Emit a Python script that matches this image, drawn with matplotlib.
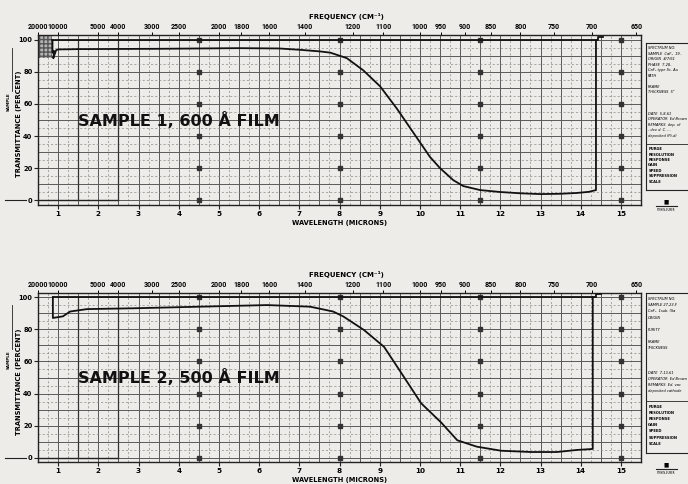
import matplotlib
matplotlib.use("Agg")
import matplotlib.pyplot as plt
import matplotlib.transforms as mtransforms
from matplotlib.patches import Rectangle
import numpy as np

# ---------------- data ----------------
wavelength_ticks = [1, 2, 3, 4, 5, 6, 7, 8, 9, 10, 11, 12, 13, 14, 15]
frequency_ticks = [20000, 10000, 5000, 4000, 3000, 2500, 2000, 1800, 1600, 1400,
                   1200, 1100, 1000, 950, 900, 850, 800, 750, 700, 650]
transmittance_ticks = [0, 20, 40, 60, 80, 100]

# Sample 1 (600 A film)
s1_wl = [0.86, 0.86, 0.90, 0.88, 0.95, 1.0, 1.5, 2.5, 3.5, 4.5, 5.5, 6.5, 7.0, 7.5,
         7.77, 8.18, 8.59, 9.01, 9.43, 9.84, 10.25, 10.5, 10.83, 11.08, 11.5,
         12.0, 12.5, 13.0, 13.5, 13.9, 14.2, 14.38, 14.38]
s1_t = [99.6, 92.0, 93.0, 88.5, 93.5, 94.0, 94.2, 94.3, 94.4, 94.6, 94.8, 94.6, 93.8, 92.8,
        92.0, 88.6, 81.0, 71.0, 57.0, 42.0, 27.0, 20.0, 12.5, 8.8, 6.3,
        5.1, 4.3, 3.8, 4.0, 4.5, 5.2, 6.3, 99.6]
ref1_wl = [0.86, 14.42, 14.42, 14.55]
ref1_t = [99.6, 99.6, 101.8, 101.8]

# Sample 2 (500 A film)
s2_wl = [0.87, 0.87, 1.0, 1.12, 1.3, 1.72, 2.87, 4.53, 6.2, 7.27, 7.84, 8.09,
         8.61, 9.11, 9.48, 10.03, 10.53, 10.93, 11.42, 12.02, 12.77, 13.41,
         13.91, 14.3, 14.3]
s2_t = [100.0, 87.0, 87.5, 88.0, 91.0, 92.5, 93.0, 94.0, 95.0, 94.0, 91.0, 88.0,
        79.5, 69.0, 55.0, 34.0, 22.0, 11.0, 7.0, 4.5, 3.7, 3.7,
        5.0, 5.6, 100.0]
ref2_wl = [0.87, 14.38, 14.38, 14.5]
ref2_t = [100.0, 100.0, 101.8, 101.8]

marker_wl = [4.5, 8.0, 11.5, 15.0]
panel_titles = ["SAMPLE 1, 600 Å FILM", "SAMPLE 2, 500 Å FILM"]

notes1 = ["SPECTRUM NO.", "SAMPLE  CaF\u2082  19..", "ORIGIN  4/7/61", "PHASE  7-28-",
          "CaF\u2082 type Sc. Au", "PATH", "", "FRAME", "THICKNESS  5\"", "", "", "",
          "DATE  5-8-61", "OPERATOR  Ed Brown", "REMARKS  dep. of", "- dev d. C. ...",
          "deposited (Pt-d)"]
notes2 = ["SPECTRUM NO.", "SAMPLE 27-23-F", "CaF\u2082  1sub. (Sa", "ORIGIN", "",
          "PURITY", "", "FRAME", "THICKNESS", "", "", "", "DATE  7-13-61",
          "OPERATOR  Ed Brown", "REMARKS  Ed. vac", "deposited cathode"]
settings = ["PURGE", "RESOLUTION", "RESPONSE", "GAIN", "SPEED", "SUPPRESSION", "SCALE"]

# ---------------- figure ----------------
BG = "#eeece8"
W, H = 688, 484
fig = plt.figure(figsize=(W / 100, H / 100), dpi=100, facecolor=BG)
plt.rcParams['font.family'] = ['DejaVu Sans']


def px_axes(x0, y0, x1, y1):
    return fig.add_axes([x0 / W, 1 - y1 / H, (x1 - x0) / W, (y1 - y0) / H])


panels = [
    dict(box=(38, 35, 641, 205), ylim=(-3.0, 103.0), wl=s1_wl, t=s1_t, rwl=ref1_wl, rt=ref1_t,
         title=panel_titles[0], notes=notes1, nbox=(646, 43, 692, 190), hatch=True),
    dict(box=(38, 293, 641, 462), ylim=(-2.5, 102.5), wl=s2_wl, t=s2_t, rwl=ref2_wl, rt=ref2_t,
         title=panel_titles[1], notes=notes2, nbox=(646, 293, 692, 453), hatch=False),
]

for p in panels:
    ax = px_axes(*p["box"])
    ax.set_facecolor(BG)
    ax.set_xlim(0.5, 15.5)
    ax.set_ylim(*p["ylim"])

    # chart-paper grid
    for xv in np.arange(0.75, 15.5, 0.5):
        ax.axvline(xv, color="#8a8a8a", lw=0.5, ls=(0, (3, 3)), zorder=1)
    for xv in np.arange(1.0, 15.5, 0.5):
        ax.axvline(xv, color="#5a5a5a", lw=0.7, zorder=1)
    for yv in np.arange(5, 100, 10):
        ax.axhline(yv, color="#8a8a8a", lw=0.5, ls=(0, (3, 3)), zorder=1)
    for yv in np.arange(0, 101, 10):
        ax.axhline(yv, color="#5a5a5a", lw=0.7, zorder=1)
    # heavier lines in the short-wavelength region
    ax.plot([0.5, 2.5], [0, 0], color="#222222", lw=1.0, zorder=2)
    for xv in [1.5, 2.5]:
        ax.plot([xv, xv], [0, 100], color="#333333", lw=0.9, zorder=2)

    # registration dots
    for xv in marker_wl:
        ax.plot([xv] * len(transmittance_ticks), transmittance_ticks, ls="none",
                marker="s", ms=2.6, color="#333333", zorder=3)

    if p["hatch"]:
        ax.add_patch(Rectangle((0.5, 88.5), 0.35, 15, facecolor="#b5b5b5",
                               edgecolor="#555555", hatch="++++", lw=0.0, zorder=2))

    # curves
    ax.plot(p["rwl"], p["rt"], color="#111111", lw=1.3, zorder=5)
    ax.plot(p["wl"], p["t"], color="#111111", lw=1.3, zorder=5)

    ax.text(1.5, 50, p["title"], fontsize=11.5, fontweight="bold", color="#111111",
            ha="left", va="center", zorder=6)

    # axes styling
    for s in ax.spines.values():
        s.set_color("#222222")
        s.set_linewidth(1.0)
    ax.set_xticks(wavelength_ticks)
    ax.set_xticklabels([str(v) for v in wavelength_ticks], fontsize=5.2, fontweight="bold")
    ax.set_yticks(transmittance_ticks)
    ax.set_yticklabels([str(v) for v in transmittance_ticks], fontsize=4.8, fontweight="bold")
    ax.tick_params(axis="y", length=3, width=0.8, color="#222222", pad=1.0)
    ax.tick_params(axis="x", length=3, width=0.8, color="#222222", pad=1.5)

    top = ax.secondary_xaxis("top")
    top.set_xticks([1e4 / f for f in frequency_ticks])
    top.set_xticklabels([str(f) for f in frequency_ticks], fontsize=5.0, fontweight="bold",
                        family=["Roboto", "DejaVu Sans"])
    top.tick_params(length=2, width=0.7, pad=1.2)
    top.spines["top"].set_visible(False)

    x0, y0, x1, y1 = p["box"]
    fig.text(346 / W, 1 - (y0 - 19) / H, "FREQUENCY (CM\u207b\u00b9)", fontsize=5.0,
             fontweight="bold", ha="center", va="center")
    fig.text(340 / W, 1 - (y1 + 18) / H, "WAVELENGTH (MICRONS)", fontsize=4.8,
             fontweight="bold", ha="center", va="center")
    ycen = (y0 + y1) / 2
    fig.text(19 / W, 1 - (ycen + 4) / H, "TRANSMITTANCE (PERCENT)", fontsize=4.8,
             fontweight="bold", rotation=90, ha="center", va="center")
    fig.text(9 / W, 1 - (ycen - 18) / H, "SAMPLE", fontsize=3.0, fontweight="bold",
             rotation=90, ha="center", va="center")
    tr = mtransforms.blended_transform_factory(ax.transAxes, ax.transData)
    ax.plot([-0.055, -0.02], [0, 0], color="#222222", lw=0.8, transform=tr, clip_on=False)
    ax.plot([-0.043, -0.043], [68, 95], color="#222222", lw=0.6, transform=tr, clip_on=False)

    # notes box at right
    nx0, ny0, nx1, ny1 = p["nbox"]
    nb = px_axes(nx0, ny0, nx1, ny1)
    nb.set_facecolor(BG)
    nb.set_xticks([])
    nb.set_yticks([])
    for s in nb.spines.values():
        s.set_linewidth(0.8)
        s.set_color("#222222")
    lines = p["notes"]
    n_total = len(lines) + len(settings) + 2
    step = 1.0 / (n_total + 1)
    yy = 1 - step
    for ln in lines:
        nb.text(0.05, yy, ln, fontsize=2.6, ha="left", va="center", style="italic",
                transform=nb.transAxes)
        yy -= step
    yy -= step * 0.5
    nb.plot([0, 1], [yy, yy], color="#222222", lw=0.6, transform=nb.transAxes)
    yy -= step
    for ln in settings:
        nb.text(0.05, yy, ln, fontsize=2.6, fontweight="bold", ha="left", va="center",
                transform=nb.transAxes)
        yy -= step

    # small logo below box
    fig.text(666 / W, 1 - (ny1 + 12) / H, "\u25a0", fontsize=4, ha="center", va="center")
    fig.lines.append(plt.Line2D([656 / W, 677 / W], [1 - (ny1 + 16) / H] * 2,
                                color="#222222", lw=0.8, transform=fig.transFigure))
    fig.text(666 / W, 1 - (ny1 + 20) / H, "PERKIN-ELMER", fontsize=1.8,
             ha="center", va="center")

fig.savefig("out.png", dpi=100, facecolor=BG)
